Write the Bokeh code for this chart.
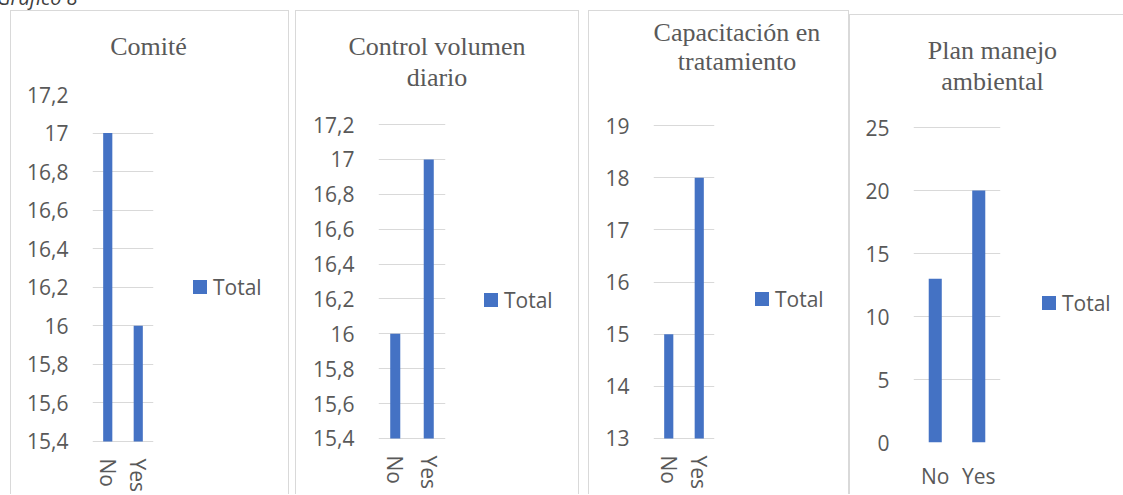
from bokeh.plotting import figure
from bokeh.models import FixedTicker, Div
from bokeh.layouts import row
from bokeh.embed import file_html
from bokeh.resources import INLINE

# ---------------- data ----------------
categories = ["No", "Yes"]
series_name = "Total"
caption = "Gráfico 8"

title_comite = ["Comité"]
title_control = ["Control volumen", "diario"]
title_capacitacion = ["Capacitación en", "tratamiento"]
title_plan = ["Plan manejo", "ambiental"]

comite = [17, 16]
control_volumen = [16, 17]
capacitacion = [15, 18]
plan_manejo = [13, 20]

ticks_a = [15.4, 15.6, 15.8, 16.0, 16.2, 16.4, 16.6, 16.8, 17.0, 17.2]
labels_a = ["15,4", "15,6", "15,8", "16", "16,2", "16,4", "16,6", "16,8", "17", "17,2"]
ticks_b = [13, 14, 15, 16, 17, 18, 19]
labels_b = ["13", "14", "15", "16", "17", "18", "19"]
ticks_c = [0, 5, 10, 15, 20, 25]
labels_c = ["0", "5", "10", "15", "20", "25"]

# ---------------- style ----------------
BAR = "#4472C4"
GRID = "#d9d9d9"
TXT = "#595959"
SANS = "Open Sans"
SERIF = "Liberation Serif"
H = 484
TOP, BOTTOM = 83, 52      # common frame borders (frames are aligned in the row)


def panel(values, ticks, tick_labels, w, inner_w, inner_h, left, fw, pad_px,
          vertical_labels, xstandoff, margin, styles, transparent=False):
    lo, hi = ticks[0], ticks[-1]
    frame_h = inner_h - TOP - BOTTOM
    span_px = frame_h - pad_px[0] - pad_px[1]
    upp = (hi - lo) / span_px
    y_start = lo - pad_px[1] * upp
    y_end = hi + pad_px[0] * upp
    p = figure(width=w, height=H, x_range=categories, y_range=(y_start, y_end),
               output_backend="svg", toolbar_location=None,
               min_border_left=left, min_border_right=inner_w - left - fw,
               min_border_top=TOP, min_border_bottom=BOTTOM,
               margin=margin, styles=styles, title=None)
    p.outline_line_color = None
    p.background_fill_color = "white"
    p.border_fill_color = None if transparent else "white"
    p.xgrid.visible = False
    p.ygrid.grid_line_color = GRID
    p.ygrid.grid_line_width = 1

    p.vbar(x=categories, top=values, bottom=lo, width=0.3,
           fill_color=BAR, line_color=None)

    ya = p.yaxis[0]
    ya.ticker = FixedTicker(ticks=ticks)
    ya.major_label_overrides = {t: l for t, l in zip(ticks, tick_labels)}
    ya.axis_line_color = None
    ya.major_tick_line_color = None
    ya.minor_tick_line_color = None
    ya.major_tick_out = 0
    ya.major_tick_in = 0
    ya.major_label_standoff = 24
    ya.major_label_text_font = SANS
    ya.major_label_text_font_size = "21px"
    ya.major_label_text_color = TXT

    xa = p.xaxis[0]
    xa.axis_line_color = None
    xa.major_tick_line_color = None
    xa.minor_tick_line_color = None
    xa.major_tick_out = 0
    xa.major_tick_in = 0
    xa.major_label_text_font = SANS
    xa.major_label_text_font_size = "21px"
    xa.major_label_text_color = TXT
    xa.major_label_standoff = xstandoff
    if vertical_labels:
        xa.major_label_orientation = "vertical"
    return p


def title_div(lines, cx, top, lh):
    w = 260
    return Div(text="<br>".join(lines), width=w,
               styles={"position": "absolute", "left": f"{cx - w / 2}px", "top": f"{top}px",
                       "width": f"{w}px", "text-align": "center", "font-family": SERIF,
                       "font-size": "26px", "line-height": f"{lh}px", "color": TXT,
                       "white-space": "nowrap", "z-index": "10", "margin": "0", "padding": "0"})


def legend_div(x, cy):
    html = (f'<div style="display:flex;align-items:center;height:28px;white-space:nowrap">'
            f'<span style="display:inline-block;width:14px;height:14px;background:{BAR};'
            f'margin-right:6px"></span><span>{series_name}</span></div>')
    return Div(text=html, width=90,
               styles={"position": "absolute", "left": f"{x}px", "top": f"{cy - 14}px",
                       "width": "90px", "font-family": SANS, "font-size": "21px",
                       "line-height": "28px", "color": TXT, "z-index": "10",
                       "margin": "0", "padding": "0"})


B = "1px solid #d9d9d9"
S3 = {"border-top": B, "border-left": B, "border-right": B}
S4 = {"background-color": "white",
      "background-image": "linear-gradient(#d9d9d9, #d9d9d9), linear-gradient(#d9d9d9, #d9d9d9)",
      "background-size": "100% 1px, 1px 100%",
      "background-position": "0 4px, 0 4px",
      "background-repeat": "no-repeat"}

p1 = panel(comite, ticks_a, labels_a, 279, 277, H - 1, 81, 59, (0, 2),
           True, 15, (10, 0, 0, 10), S3)
p2 = panel(control_volumen, ticks_a, labels_a, 284, 282, H - 1, 82, 65, (30, 5),
           True, 12, (10, 0, 0, 6), S3)
p3 = panel(capacitacion, ticks_b, labels_b, 261, 259, H - 1, 64, 59, (31, 5),
           True, 12, (10, 0, 0, 9), S3)
p4 = panel(plan_manejo, ticks_c, labels_c, 274, 274, H, 64, 87, (34, 0),
           False, 19, (10, 0, 0, 0), S4, transparent=True)

overlays = [
    title_div(title_comite, 148.5, 30.7, 31),
    title_div(title_control, 437, 30.7, 31),
    title_div(title_capacitacion, 737, 17.7, 29),
    title_div(title_plan, 992.5, 34.7, 31),
    legend_div(193, 286),
    legend_div(484, 299),
    legend_div(755, 298),
    legend_div(1042, 302),
    Div(text=caption, width=120,
        styles={"position": "absolute", "left": "-3px", "top": "-14px", "width": "120px",
                "font-family": SANS, "font-style": "italic", "font-size": "20px",
                "line-height": "24px", "color": "#404040", "z-index": "10",
                "white-space": "nowrap", "margin": "0", "padding": "0"}),
]

layout = row(p1, p2, p3, p4, *overlays)
open("out.html", "w").write(file_html(layout, INLINE))
